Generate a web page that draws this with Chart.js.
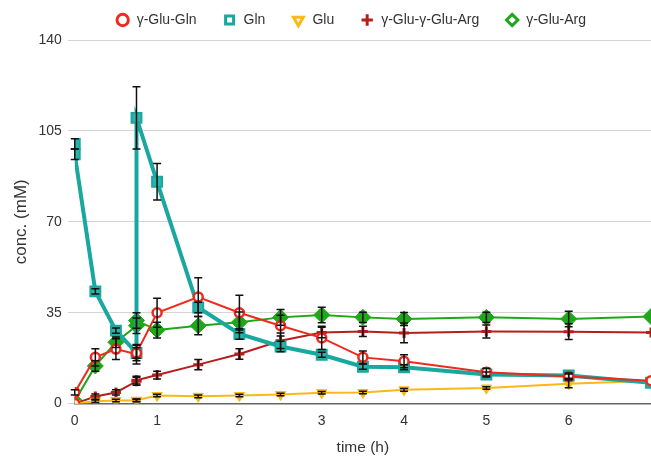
<!DOCTYPE html>
<html lang="en">
<head>
<meta charset="UTF-8">
<title>Concentration vs time</title>
<script src="https://cdn.jsdelivr.net/npm/chart.js@4.4.0/dist/chart.umd.min.js"></script>
<style>
  html, body { margin: 0; padding: 0; background: #fff; }
  #wrap { width: 651px; height: 457px; }
</style>
</head>
<body>
<div id="wrap"><canvas id="chart"></canvas></div>
<script>
// sampling times (h); 0 and 0.75 appear twice (before/after addition)
const times = [0, 0, 0.25, 0.5, 0.75, 0.75, 1, 1.5, 2, 2.5, 3, 3.5, 4, 5, 6, 7];

const gluGln     = [0, 4.3, 17.8, 21, 19, 19.5, 35, 41, 35, 30, 25.3, 17.8, 16.3, 12.1, 10.4, 8.8];
const gluGlnErr  = [0, 1, 3.3, 4, 3.8, 3, 5.6, 7.5, 6.7, 4, 4.5, 2.5, 2.5, 1.5, 1, 0];

const gln        = [100, 96, 43.2, 28.1, 19.5, 110, 85.4, 37, 26.8, 22, 18.8, 14.2, 14, 11.2, 10.8, 8];
const glnErr     = [2, 2, 1, 1, 2, 12, 7, 2, 2, 2, 1, 1, 1, 1, 1, 0];

const glu        = [0, 0, 0.9, 1.2, 1.2, 1.3, 3.1, 2.8, 3.1, 3.5, 4.2, 4.3, 5.3, 6, 7.6, 8.8];
const gluErr     = [0, 0, 0.5, 0.5, 0.5, 0.5, 0.5, 0.5, 0.5, 0.5, 0.5, 0.5, 0.5, 0.5, 1.5, 0];

const gluGluArg    = [0, 0, 2.7, 4.3, 8.6, 9, 11, 15, 19.1, 24.2, 27.4, 27.8, 27.2, 27.8, 27.7, 27.4];
const gluGluArgErr = [0, 0, 1, 1, 1.5, 1.5, 1.5, 2, 2, 3, 2, 2, 3.8, 2.5, 3, 0];

const gluArg     = [0.5, 1, 14.5, 23.6, 30, 32, 28.3, 30, 31.3, 33.2, 34.1, 33.2, 32.6, 33.2, 32.6, 33.5];
const gluArgErr  = [0, 0, 2, 2, 3, 3, 3, 3.5, 4, 3, 3, 2, 2.5, 2, 3, 0];

const yTicks = [0, 35, 70, 105, 140];
const xTicks = [0, 1, 2, 3, 4, 5, 6];

const FONT = 'Liberation Sans, Arial, sans-serif';
const pts = vals => vals.map((v, i) => ({ x: times[i], y: v }));

// error bars drawn through the chart scales
const errorBars = {
  id: 'errorBars',
  afterDatasetsDraw(chart) {
    const ctx = chart.ctx;
    const xs = chart.scales.x, ys = chart.scales.y;
    ctx.save();
    ctx.strokeStyle = '#111';
    ctx.lineWidth = 1.5;
    chart.data.datasets.forEach(ds => {
      ds.errors.forEach((e, i) => {
        if (!e) return;
        const v = ds.data[i].y;
        const px = xs.getPixelForValue(ds.data[i].x);
        const top = ys.getPixelForValue(v + e);
        const bot = ys.getPixelForValue(v - e);
        ctx.beginPath();
        ctx.moveTo(px, top); ctx.lineTo(px, bot);
        ctx.moveTo(px - 4, top); ctx.lineTo(px + 4, top);
        ctx.moveTo(px - 4, bot); ctx.lineTo(px + 4, bot);
        ctx.stroke();
      });
    });
    ctx.restore();
  }
};

// pull the legend up and a bit left, and give back the space under it
const legendTweak = {
  id: 'legendTweak',
  beforeInit(chart) {
    const lg = chart.legend;
    if (!lg) return;
    const fit = lg.fit.bind(lg);
    lg.fit = function () { fit(); this.height -= 14; };
    lg.draw = function () { if (this.options.display) this._draw(); };
  },
  afterUpdate(chart) {
    const lg = chart.legend;
    lg.top -= 17; lg.bottom -= 17;
    lg.left -= 12; lg.right -= 12;
  }
};

new Chart(document.getElementById('chart'), {
  type: 'line',
  data: {
    datasets: [
      { label: 'γ-Glu-Gln', data: pts(gluGln), errors: gluGlnErr,
        borderColor: '#ee2a1f', backgroundColor: '#ffffff', borderWidth: 2,
        pointStyle: 'circle', pointRadius: 4.5, pointBorderWidth: 2.5 },
      { label: 'Gln', data: pts(gln), errors: glnErr,
        borderColor: '#19a89f', backgroundColor: '#2bb3aa', borderWidth: 4,
        pointStyle: 'rect', pointRadius: 7, pointBorderWidth: 2 },
      { label: 'Glu', data: pts(glu), errors: gluErr,
        borderColor: '#fbb817', backgroundColor: '#fbb817', borderWidth: 2,
        pointStyle: 'triangle', pointRotation: 180, pointRadius: 6, pointBorderWidth: 1 },
      { label: 'γ-Glu-γ-Glu-Arg', data: pts(gluGluArg), errors: gluGluArgErr,
        borderColor: '#b41f1c', backgroundColor: '#b41f1c', borderWidth: 2,
        pointStyle: 'cross', pointRadius: 5, pointBorderWidth: 3 },
      { label: 'γ-Glu-Arg', data: pts(gluArg), errors: gluArgErr,
        borderColor: '#1fa71a', backgroundColor: '#1fa71a', borderWidth: 2,
        pointStyle: 'rectRot', pointRadius: 8, pointBorderWidth: 1 }
    ]
  },
  options: {
    responsive: true,
    maintainAspectRatio: false,
    animation: false,
    layout: { autoPadding: false, padding: { left: 10, right: 0, top: 4, bottom: 0 } },
    plugins: {
      tooltip: { enabled: false },
      legend: {
        position: 'top',
        fullSize: false,
        labels: {
          usePointStyle: true,
          boxWidth: 14,
          boxHeight: 8,
          padding: 26,
          color: '#333',
          font: { family: FONT, size: 14 },
          generateLabels(chart) {
            const items = Chart.defaults.plugins.legend.labels.generateLabels(chart);
            items.forEach(it => {
              if (it.pointStyle !== 'cross') it.fillStyle = '#ffffff';
              it.lineWidth = 3;
            });
            return items;
          }
        }
      }
    },
    scales: {
      x: {
        type: 'linear',
        min: 0, max: 7,
        afterBuildTicks: s => { s.ticks = xTicks.map(v => ({ value: v })); },
        grid: { display: false, drawTicks: false, tickLength: 0 },
        border: { display: true, color: '#666', width: 1.5 },
        ticks: { color: '#333', padding: 9, font: { family: FONT, size: 14 } },
        title: { display: true, text: 'time (h)', color: '#333', padding: { top: 0, bottom: 0 },
                 font: { family: FONT, size: 15.5 } }
      },
      y: {
        min: 0, max: 140,
        afterBuildTicks: s => { s.ticks = yTicks.map(v => ({ value: v })); },
        grid: { color: '#d4d4d4', tickLength: 7, drawTicks: true },
        border: { display: false },
        ticks: { color: '#333', padding: 6, font: { family: FONT, size: 14 } },
        title: { display: true, text: 'conc. (mM)', color: '#333', padding: { top: 1, bottom: 1 },
                 font: { family: FONT, size: 17 } }
      }
    }
  },
  plugins: [errorBars, legendTweak]
});
</script>
</body>
</html>
